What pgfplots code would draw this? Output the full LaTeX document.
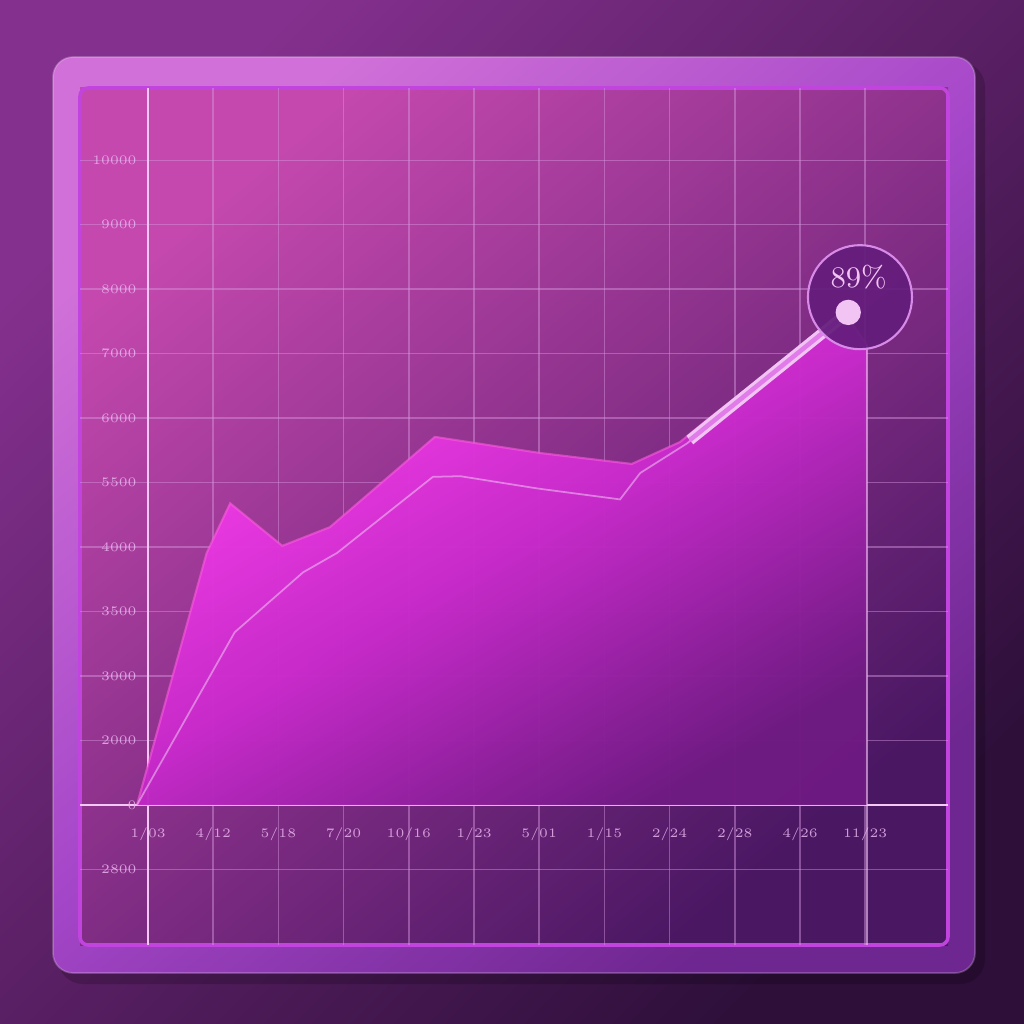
\documentclass[border=0pt]{standalone}
\usepackage{pgfplots}
\pgfplotsset{compat=1.18}
\usepackage{pgfplotstable}
\definecolor{bgA}{HTML}{84308E}
\definecolor{bgB}{HTML}{2E0F3A}
\definecolor{frameA}{HTML}{D070D8}
\definecolor{frameM}{HTML}{A446C8}
\definecolor{frameB}{HTML}{6E2690}
\definecolor{panelA}{HTML}{C448AE}
\definecolor{panelB}{HTML}{4A1763}
\definecolor{areaTop}{HTML}{FF40F0}
\definecolor{areaMid}{HTML}{C82ACB}
\definecolor{areaBot}{HTML}{6E1A82}
\definecolor{gridc}{HTML}{D898E0}
\definecolor{axisc}{HTML}{F4C8F4}
\definecolor{labelc}{HTML}{E8B4EC}
\definecolor{pointc}{HTML}{F2C4F4}
\definecolor{circfill}{HTML}{641C7C}
\definecolor{circdraw}{HTML}{D88AE8}
\definecolor{edgec}{HTML}{C244DE}
\definecolor{connc}{HTML}{E27BEA}

\pgfplotstableread{
x y
-0.17 0
0.90 3910
1.26 4680
2.06 4020
2.79 4310
4.40 5710
6.01 5460
7.42 5290
8.16 5630
8.57 5970
10.69 7630
11.03 7130
}\outer

\pgfplotstableread{
x y
-0.17 0
1.33 2680
2.38 3610
2.90 3910
4.37 5090
4.79 5100
5.97 4910
7.24 4740
7.55 5150
8.27 5610
10.61 7630
}\inner

\begin{document}
\begin{tikzpicture}
\useasboundingbox (0,0) rectangle (10.24,10.24);
% background
\shade[top color=bgA, bottom color=bgB, shading angle=45] (0,0) rectangle (10.24,10.24);
% shadow
\fill[black, opacity=0.18, rounded corners=0.25cm] (0.58,0.40) rectangle (9.85,9.62);
% frame
\shade[top color=frameA, bottom color=frameB, middle color=frameM, shading angle=40, rounded corners=0.2cm]
  (0.53,0.51) rectangle (9.75,9.67);
\draw[white, opacity=0.2, line width=0.5pt, rounded corners=0.2cm] (0.53,0.51) rectangle (9.75,9.67);
% inner panel
\shade[top color=panelA, bottom color=panelB, shading angle=40] (0.80,0.79) rectangle (9.48,9.36);
\draw[edgec, line width=1pt, rounded corners=0.08cm] (0.80,0.79) rectangle (9.48,9.36);

\begin{axis}[
  at={(0.80cm,0.79cm)}, anchor=south west,
  scale only axis, width=8.68cm, height=8.57cm,
  xmin=-1.043, xmax=12.27, ymin=-2170, ymax=11120,
  axis lines=middle,
  axis line style={-, draw=axisc, line width=0.8pt},
  hide obscured x ticks=false, hide obscured y ticks=false,
  scaled y ticks=false,
  xtick={0,1,...,11},
  xticklabels={1/03,4/12,5/18,7/20,10/16,1/23,5/01,1/15,2/24,2/28,4/26,11/23},
  ytick={-1000,0,1000,2000,3000,4000,5000,6000,7000,8000,9000,10000},
  yticklabels={2800,0,2000,3000,3500,4000,5500,6000,7000,8000,9000,10000},
  major tick length=0pt,
  tick label style={font=\fontsize{3.7}{4.5}\selectfont, text=labelc, opacity=0.85},
  xticklabel style={yshift=-1.0mm},
  yticklabel style={xshift=0.1mm},
  grid=major,
  major grid style={draw=gridc, opacity=0.45, line width=0.4pt},
  clip=false,
]
% area
\addplot[draw=none, top color=areaTop, bottom color=areaBot, middle color=areaMid, shading angle=30, fill opacity=0.97]
  table[x=x,y=y]{\outer} \closedcycle;
\addplot[draw=pink!50!magenta, opacity=0.55, line width=0.6pt] table[x=x,y=y]{\outer};
% highlight
\addplot[draw=pointc, opacity=0.55, line width=0.5pt] table[x=x,y=y]{\inner};
% right edge
\addplot[draw=axisc, opacity=0.6, line width=0.6pt] coordinates {(11.03,7130) (11.03,-2170)};
% annotation circle
\addplot[only marks, mark=*, mark size=14.8pt,
  mark options={fill=circfill, draw=circdraw, line width=0.6pt, fill opacity=0.92}]
  coordinates {(10.92,7876)};
% connector
\addplot[draw=pointc, double=connc, double distance=1.3pt, line width=0.9pt]
  coordinates {(8.31,5660) (10.74,7640)};
% point
\addplot[only marks, mark=*, mark size=3.4pt, mark options={fill=pointc, draw=pointc}]
  coordinates {(10.74,7640)};
\coordinate (lbl) at (axis cs:10.90,8190);
\end{axis}
\node[text=pointc, font=\fontsize{8.5}{9}\selectfont] at (lbl) {89\%};
\end{tikzpicture}
\end{document}
